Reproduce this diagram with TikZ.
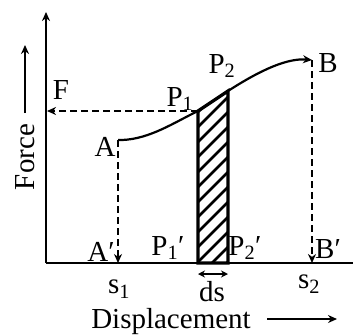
\documentclass[tikz,border=0pt]{standalone}
\usepackage{fontspec}
\setmainfont{Liberation Serif}
\usetikzlibrary{arrows.meta}

\begin{document}
\begin{tikzpicture}[x=1pt,y=-1pt,>={Stealth[length=9pt,width=8pt]}]
    \tikzset{lbl/.style={inner sep=0pt,font=\fontsize{29}{32}\selectfont},
      axis/.style={line width=2.2pt},
      guide/.style={->,line width=2.3pt,dash pattern=on 7pt off 4pt}}
    \useasboundingbox (0,0) rectangle (353,335);
    % points of the graph
    \coordinate (O) at (46,263);
    \coordinate (Ytop) at (46,12);
    \coordinate (Xend) at (353,263);
    \coordinate (A) at (118,140);
    \coordinate (P1) at (198,111);
    \coordinate (P2) at (228,91);
    \coordinate (B) at (312,60);
    \coordinate (Ap) at (118,263);
    \coordinate (P1p) at (198,263);
    \coordinate (P2p) at (228,263);
    \coordinate (Bp) at (312,263);
    \coordinate (F) at (47,111);
    \coordinate (dsL) at (198,274);
    \coordinate (dsR) at (228,274);
    % hatched strip
    \begin{scope}
      \clip (P1p) -- (P1) -- (P2) -- (P2p) -- cycle;
      \foreach \k in {0,...,16}
        \draw[line width=2.8pt] (190,300-\k*15) -- ++(50,-50);
    \end{scope}
    \draw[line width=3.2pt] (P1p) -- (P1) -- (P2) -- (P2p) -- cycle;
    % axes
    \draw[axis,->] (O) -- (Ytop);
    \draw[axis] (O) -- (Xend);
    % curve
    \draw[->,line width=2.2pt] (A) -- ++(4,0) .. controls (150,139) and (175,122) .. (P1) -- (P2) .. controls (262,69) and (288,58) .. (B);
    \draw[guide] (A) -- (Ap);
    \draw[guide] (B) -- (Bp);
    \draw[guide] (P1) -- (F);
    \draw[<->,line width=2pt,>={Stealth[length=7pt,width=7pt]}] (dsL) -- (dsR);
    % labels
    \node[lbl] (lF) at (61,90) {F};
    \node[lbl] (lA) at (105,147) {A};
    \node[lbl] (lP1) at (180,99) {P\textsubscript{1}};
    \node[lbl] (lP2) at (222,66) {P\textsubscript{2}};
    \node[lbl] (lB) at (328,63) {B};
    \node[lbl] (lAp) at (101,252) {A′};
    \node[lbl] (lP1p) at (168,248) {P\textsubscript{1}′};
    \node[lbl] (lP2p) at (245,248) {P\textsubscript{2}′};
    \node[lbl] (lBp) at (328,249) {B′};
    \node[lbl] (ls1) at (119,289) {s\textsubscript{1}};
    \node[lbl] (ls2) at (309,284) {s\textsubscript{2}};
    \node[lbl] (lds) at (212,292) {ds};
    \node[lbl] (lDisp) at (171,322) {Displacement};
    \node[lbl,rotate=90] (lForce) at (25,157) {Force};
    \coordinate (dispA) at (267,319);
    \coordinate (dispB) at (337,319);
    \coordinate (forceA) at (25,113);
    \coordinate (forceB) at (25,45);
    \draw[->,line width=1.6pt] (dispA) -- (dispB);
    \draw[->,line width=1.6pt] (forceA) -- (forceB);
  \end{tikzpicture}
\end{document}
